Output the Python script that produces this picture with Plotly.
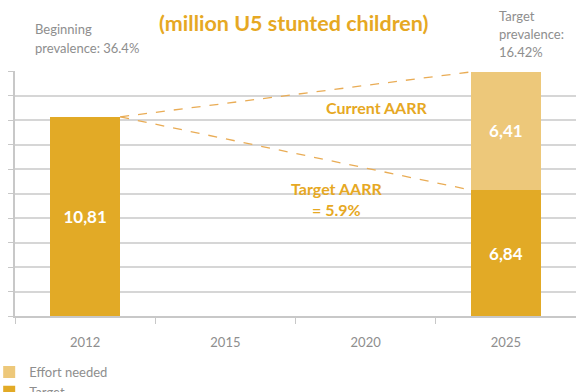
import plotly.graph_objects as go

# ---- data ----
years = ["2012", "2015", "2020", "2025"]
x_pos = [0, 1, 2, 3]
target = [10.81, None, None, 6.84]
effort = [None, None, None, 6.41]
# dashed AARR lines: start at top of 2012 bar, end at 2025 bar (current total / target)
line_current = [10.81, 6.84 + 6.41]
line_target = [10.81, 6.84]

GOLD = "#E2AA26"
LIGHT = "#EDC87A"
ORANGE = "#E6A823"
DASH = "#E9AC55"
GRAY = "#8E8E8E"
FONT = "Lato"

# plot area in pixels
L, R, T, B = 15, 576, 71, 316
W, H = 576, 392


def px2paper(px, py):
    return (px - L) / (R - L), (B - py) / (B - T)


fig = go.Figure()
fig.add_trace(go.Bar(
    x=x_pos, y=target, name="Target", marker=dict(color=GOLD, line=dict(width=0)),
    width=0.5, texttemplate="%{y:.2f}", textposition="inside", insidetextanchor="middle",
    textfont=dict(color="white", size=17, family=FONT, weight="bold"),
))
fig.add_trace(go.Bar(
    x=x_pos, y=effort, name="Effort needed", marker=dict(color=LIGHT, line=dict(width=0)),
    width=0.5, texttemplate="%{y:.2f}", textposition="inside", insidetextanchor="middle",
    textfont=dict(color="white", size=17, family=FONT, weight="bold"),
))
for yy in (line_current, line_target):
    fig.add_trace(go.Scatter(
        x=[0.25, 2.75], y=yy, mode="lines", showlegend=False, hoverinfo="skip",
        line=dict(color=DASH, width=1.3, dash="dash"),
    ))

anns = []
tx, ty = px2paper(294, 23)
anns.append(dict(x=tx, y=ty, xref="paper", yref="paper", text="<b>(million U5 stunted children)</b>",
                 showarrow=False, xanchor="center", yanchor="middle",
                 font=dict(size=21.5, color=ORANGE, family=FONT)))
for txt, py in (("Beginning", 29), ("prevalence: 36.4%", 48)):
    ax, ay = px2paper(33, py)
    anns.append(dict(x=ax, y=ay, xref="paper", yref="paper", text=txt, showarrow=False,
                     xanchor="left", yanchor="middle", font=dict(size=13, color=GRAY, family=FONT)))
for txt, py in (("Target", 16), ("prevalence:", 34), ("16.42%", 52)):
    ax, ay = px2paper(497, py)
    anns.append(dict(x=ax, y=ay, xref="paper", yref="paper", text=txt, showarrow=False,
                     xanchor="left", yanchor="middle", font=dict(size=13, color=GRAY, family=FONT)))
anns.append(dict(x=2.08, y=11.3, xref="x", yref="y", text="<b>Current AARR</b>", showarrow=False,
                 xanchor="center", yanchor="middle", font=dict(size=16, color=ORANGE, family=FONT)))
anns.append(dict(x=1.79, y=6.35, xref="x", yref="y", text="<b>Target AARR<br>= 5.9%</b>", showarrow=False,
                 xanchor="center", yanchor="middle", align="center",
                 font=dict(size=16, color=ORANGE, family=FONT)))

fig.update_layout(
    width=W, height=H,
    margin=dict(l=L, r=W - R, t=T, b=H - B, pad=0, autoexpand=False),
    paper_bgcolor="white", plot_bgcolor="white",
    barmode="stack", bargap=0.5,
    separators=",.",
    font=dict(family=FONT, color=GRAY, size=13),
    showlegend=True,
    legend=dict(x=-0.046, y=(B - 357) / (B - T), xanchor="left", yanchor="top",
                orientation="v", traceorder="reversed", itemwidth=30,
                font=dict(size=13, color=GRAY, family=FONT), bgcolor="rgba(0,0,0,0)"),
    annotations=anns,
)
fig.update_xaxes(
    range=[-0.5, 3.5], tickvals=x_pos, ticktext=years, ticks="", showgrid=False,
    showline=True, linecolor="#C8C8C8", linewidth=1.5, zeroline=False,
    ticklabelstandoff=14, tickfont=dict(size=13, color=GRAY, family=FONT),
    minor=dict(tick0=0.5, dtick=1, ticks="outside", ticklen=6, tickcolor="#C8C8C8", tickwidth=1.2),
)
fig.update_yaxes(
    range=[0, 13.3], dtick=1.33, tick0=0, showticklabels=False, ticks="outside", ticklen=5,
    tickcolor="#C8C8C8", showgrid=True, gridcolor="#D6D6D6", gridwidth=1.5,
    showline=True, linecolor="#C8C8C8", linewidth=1.5, zeroline=False,
)

fig.write_html("out.html", config={"displayModeBar": False},
               post_script="document.body.style.margin='0';document.body.style.overflow='hidden';")
